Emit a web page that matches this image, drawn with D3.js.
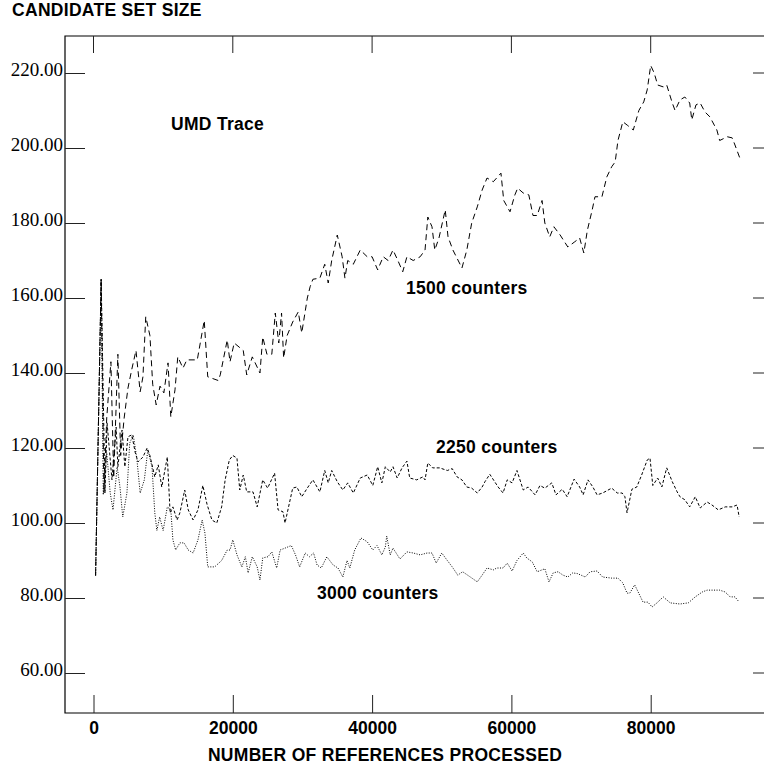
<!DOCTYPE html>
<html>
<head>
<meta charset="utf-8">
<script src="https://cdn.jsdelivr.net/npm/d3@7"></script>
<style>
  body { margin: 0; background: #fff; }
  svg { display: block; }
  .lbl { font-family: "Liberation Sans", Arial, sans-serif; font-weight: bold; font-size: 17.5px; fill: #000; }
  .ytick text { font-family: "Liberation Serif", "Times New Roman", serif; font-size: 19px; fill: #000; }
  .xtick text { font-family: "Liberation Sans", Arial, sans-serif; font-weight: bold; font-size: 17.5px; fill: #000; }
</style>
</head>
<body>
<div class="chart"></div>
<script>
// tick values
const yTicks = [60, 80, 100, 120, 140, 160, 180, 200, 220];
const xTicks = [0, 20000, 40000, 60000, 80000];

// series: references processed -> candidate set size
const refs1500 = [300, 1100, 1500, 1900, 2500, 2900, 3500, 3900, 4400, 4950, 5500, 6100, 6700, 7100, 7500, 8100, 8500, 9000, 9550, 10100,
  10700, 11100, 11700, 12100, 12850, 13400, 14900, 15900, 16400, 17900, 18200, 19200, 19600, 20200, 21500, 22000, 22800, 23900, 24300, 24900,
  25600, 26100, 26600, 27000, 27300, 27800, 28600, 29400, 29900, 30700, 31100, 31500, 32500, 33200, 33700, 34200, 35000, 35700, 36100, 36500,
  37300, 38300, 39300, 40000, 40800, 41600, 42300, 43000, 43700, 44400, 45000, 45900, 46900, 47600, 48000, 48600, 49000, 49600, 50500, 50900,
  51600, 52900, 53600, 54300, 55100, 55800, 56500, 57400, 58500, 58900, 59800, 60500, 60900, 61700, 62500, 63100, 63700, 64400, 64800, 65500,
  66100, 67000, 68100, 69100, 69800, 70400, 70900, 71600, 72000, 73000, 73700, 74400, 74900, 75300, 76000, 76700, 77500, 78300, 79000, 79500,
  80000, 80500, 81000, 81800, 82300, 83100, 83500, 84200, 84900, 85600, 85900, 86500, 87100, 87800, 88500, 89500, 89900, 91000, 91700, 92100, 92800];
const vals1500 = [86, 165, 108, 128, 143, 112, 145, 118, 128, 136, 141, 146, 135, 139, 155, 150, 137, 131.5, 136.5, 134.7,
  142.7, 128.3, 135.5, 144.3, 141.3, 143.5, 143.5, 154, 139, 138, 139.5, 148.8, 143, 148, 146, 139.5, 144.3, 140, 149.6, 145,
  145, 156, 148, 156, 144, 150, 153.6, 156.3, 150.7, 160, 163, 165, 165.3, 169, 164, 170, 176.8, 171, 165.3, 170,
  169, 172.8, 171, 171, 167.5, 171, 170, 172.8, 170, 167, 171, 170, 171, 172.8, 181.6, 179, 172.8, 176, 183.5, 176.3,
  172.8, 168, 172.8, 180, 184.3, 188.8, 192, 191, 193.3, 186, 183, 187.5, 189.3, 188, 187.5, 182, 182, 186, 180, 176.3,
  179, 176.8, 173.6, 175, 176, 172, 178, 183.5, 187, 187, 192.3, 195, 196.3, 202, 207, 206, 204.8, 210, 212.3, 215.5,
  222, 220, 216.8, 216.3, 216.8, 212, 210, 212.8, 213.6, 212, 207.5, 211.5, 212, 209.6, 208.3, 204.8, 202, 203, 202.7, 200.8, 197.3];

const refs2250 = [300, 1100, 1650, 1950, 2650, 3250, 3500, 4100, 4500, 4950, 5500, 6000, 6400, 7100, 7700, 8100, 8800, 9300, 9800, 10600,
  11000, 11400, 12000, 12400, 13100, 13600, 14300, 15000, 15700, 16300, 17000, 17700, 18400, 18900, 19500, 20000, 20600, 21000, 21500, 22000,
  22900, 23500, 24300, 25000, 26000, 26500, 27200, 27500, 28600, 29200, 29900, 30800, 31500, 32500, 33200, 33700, 34200, 35000, 35800, 36500,
  37300, 38300, 39300, 40100, 40800, 41400, 41900, 42600, 43000, 43600, 44300, 45000, 45400, 46400, 47300, 47600, 48000, 48700, 49700, 50800,
  51500, 52200, 52900, 53600, 54300, 55100, 55800, 56200, 56900, 57600, 58100, 58800, 59400, 60100, 60800, 61700, 62400, 63400, 64100, 64800,
  65800, 66400, 67300, 68000, 69000, 69800, 70300, 71000, 71700, 72300, 73100, 74400, 75200, 75900, 76300, 76600, 77300, 78000, 78700, 79500,
  79900, 80300, 81000, 81600, 82300, 83100, 83800, 84200, 84900, 85600, 86400, 87100, 88100, 88800, 89700, 90700, 91700, 92400, 92700];
const vals2250 = [86, 165, 108, 126.7, 111.5, 125.6, 115, 124.8, 115, 123, 123.5, 118.7, 116.3, 117.6, 120, 118, 112.3, 115.5, 109.6, 117.6,
  102.7, 104.3, 100.8, 102.7, 108.8, 103.5, 100.8, 103.5, 110, 105, 100.8, 100, 104.3, 111.5, 116.8, 118, 117.3, 108.8, 112.8, 108.3,
  108.3, 104.3, 111.5, 109.3, 113.3, 103.5, 103, 100, 109.3, 109.6, 107, 109.6, 111.5, 108.3, 114, 110.7, 114, 111, 108.8, 110.7,
  108, 112, 112.8, 110, 115, 110.7, 115, 113.6, 115, 112, 114.7, 116.5, 112, 111.5, 112.3, 111.5, 116, 114.7, 114.7, 114,
  114.5, 112.3, 111.5, 109.6, 109.3, 108, 109.6, 111, 113, 111, 109.6, 108, 111.5, 110.7, 114, 108.8, 109.6, 107.5, 110, 109.3,
  110.7, 107.5, 109, 107, 111.7, 109.6, 107.5, 111.5, 109.6, 107.5, 108, 109.3, 108, 108, 107, 102.7, 109, 109.6, 112.8, 116.8,
  117.3, 110, 112, 109.6, 114.7, 111, 108.3, 107, 106.2, 104.3, 107, 104, 105.6, 104.8, 103.5, 104.3, 104.3, 104.8, 101.6];

const refs3000 = [300, 1100, 1400, 1900, 2400, 2800, 3400, 3800, 4200, 4800, 5200, 5700, 6200, 6700, 7300, 7800, 8400, 8800, 9100, 9500,
  10000, 10600, 11100, 11400, 11800, 12400, 13000, 13600, 14300, 15000, 15600, 16000, 16400, 17400, 18400, 19200, 19600, 20000, 20600, 21300,
  21800, 22200, 22800, 23500, 23900, 24300, 25050, 25600, 26300, 26800, 27500, 28400, 29000, 29600, 30400, 31000, 31600, 32100, 32700, 33500,
  34400, 35100, 35800, 36400, 36800, 37500, 38400, 39300, 40100, 40700, 41400, 41900, 42100, 42600, 43000, 44000, 45000, 45900, 46900, 47900,
  48600, 49200, 50000, 50800, 51500, 52300, 53000, 54100, 55100, 55800, 56500, 57400, 57900, 58800, 59400, 60100, 60800, 61700, 62200, 63000,
  63700, 64400, 64800, 65400, 66000, 66700, 67400, 68100, 68800, 69500, 70600, 71300, 72300, 73100, 74400, 75300, 76000, 76600, 77000, 77700,
  78200, 78900, 79600, 80200, 80900, 81800, 82800, 84200, 85400, 86400, 87400, 88100, 88900, 89900, 90700, 91400, 92100, 92700];
const vals3000 = [86, 165, 107.5, 118.7, 108, 103.5, 115, 109.6, 101.6, 108, 121.3, 123.5, 117.6, 108, 111.5, 119.5, 115, 102.7, 98, 101.6,
  98, 104.3, 103.5, 95.5, 92.8, 94.7, 94.7, 92.8, 92, 95.5, 100.8, 97.3, 88.3, 88.3, 90, 92.8, 92.8, 95.5, 91.5, 88.3,
  91, 86.7, 91, 88.3, 84.8, 90.7, 91, 92.3, 88, 92.8, 93.3, 94, 91.5, 88.3, 92, 91, 92, 88.8, 88, 91,
  88.8, 88, 85.6, 90, 88, 92.8, 96, 95, 92.8, 94, 91.5, 93.6, 96.5, 91.5, 93.3, 90.4, 92.3, 92, 91.5, 92,
  92, 89.3, 92, 90, 88.3, 86.1, 87, 85.6, 84.3, 86.1, 88, 87.5, 88, 88, 89.3, 87.2, 90, 92, 90.7, 89.6,
  87, 87.5, 87.8, 84.3, 86.7, 87, 86.1, 85.6, 86.7, 86.5, 85.6, 87, 87.2, 85.6, 85.3, 85.3, 84, 81.3, 81.3, 83.5,
  81.6, 78.9, 78.9, 77.6, 78.7, 80.3, 78.7, 78.4, 78.7, 80.3, 81.6, 82.1, 82.1, 82.1, 81.6, 80.3, 80.3, 78.9];

const series = [
  { name: "1500 counters", refs: refs1500, vals: vals1500, dash: "6,4" },
  { name: "2250 counters", refs: refs2250, vals: vals2250, dash: "3,2" },
  { name: "3000 counters", refs: refs3000, vals: vals3000, dash: "1,1.5" }
];

const width = 764, height = 767;
const plotLeft = 65, plotRight = 773, plotTop = 36, plotBottom = 713;

const svg = d3.select(".chart")
  .append("svg")
  .attr("width", width)
  .attr("height", height);

// 0 sits at x=93.5, 20000 refs per 139.3px
const x = d3.scaleLinear()
  .domain([(plotLeft - 93.5) * 20000 / 139.3, (plotRight - 93.5) * 20000 / 139.3])
  .range([plotLeft, plotRight]);
// 220 at y=73, 60 at y=673
const y = d3.scaleLinear()
  .domain([60 - (plotBottom - 673) / 3.75, 220 + (73 - plotTop) / 3.75])
  .range([plotBottom, plotTop]);

// frame (right side falls outside the picture)
svg.append("path")
  .attr("d", `M${plotRight},${plotTop}H${plotLeft}V${plotBottom}H${plotRight}`)
  .attr("fill", "none")
  .attr("stroke", "#000")
  .attr("stroke-width", 1.2);

// left axis, ticks pointing inward
const yAxis = svg.append("g")
  .attr("class", "ytick")
  .attr("transform", `translate(${plotLeft},0)`)
  .call(d3.axisLeft(y).tickValues(yTicks).tickSize(-20).tickPadding(2).tickFormat(d3.format(".2f")));
yAxis.select(".domain").remove();
yAxis.selectAll("line").attr("stroke", "#222");
yAxis.selectAll("text").attr("dy", "0.15em");

// right ticks
svg.append("g")
  .selectAll("line")
  .data(yTicks)
  .enter().append("line")
  .attr("x1", plotRight - 20).attr("x2", plotRight)
  .attr("y1", d => y(d)).attr("y2", d => y(d))
  .attr("stroke", "#222");

// bottom axis
const xAxis = svg.append("g")
  .attr("class", "xtick")
  .attr("transform", `translate(0,${plotBottom})`)
  .call(d3.axisBottom(x).tickValues(xTicks).tickSize(-18).tickPadding(9).tickFormat(d3.format("d")));
xAxis.select(".domain").remove();
xAxis.selectAll("line").attr("stroke", "#222");

// top ticks
svg.append("g")
  .selectAll("line")
  .data(xTicks)
  .enter().append("line")
  .attr("x1", d => x(d)).attr("x2", d => x(d))
  .attr("y1", plotTop).attr("y2", plotTop + 17)
  .attr("stroke", "#222");

const line = d3.line()
  .x(d => x(d[0]))
  .y(d => y(d[1]));

svg.append("g")
  .selectAll("path")
  .data(series)
  .enter().append("path")
  .attr("d", s => line(s.refs.map((r, i) => [r, s.vals[i]])))
  .attr("fill", "none")
  .attr("stroke", "#000")
  .attr("stroke-width", 1)
  .attr("stroke-dasharray", s => s.dash);

// texts
const labels = [
  { t: "CANDIDATE SET SIZE", x: 12, y: 16 },
  { t: "UMD Trace", x: 171, y: 130 },
  { t: "1500 counters", x: 406, y: 294 },
  { t: "2250 counters", x: 436, y: 453 },
  { t: "3000 counters", x: 317, y: 599 }
];
svg.append("g")
  .selectAll("text")
  .data(labels)
  .enter().append("text")
  .attr("class", "lbl")
  .attr("x", d => d.x)
  .attr("y", d => d.y)
  .attr("letter-spacing", "0.3px")
  .text(d => d.t);

svg.append("text")
  .attr("class", "lbl")
  .attr("x", 385)
  .attr("y", 761)
  .attr("text-anchor", "middle")
  .attr("letter-spacing", "0.3px")
  .text("NUMBER OF REFERENCES PROCESSED");
</script>
</body>
</html>
